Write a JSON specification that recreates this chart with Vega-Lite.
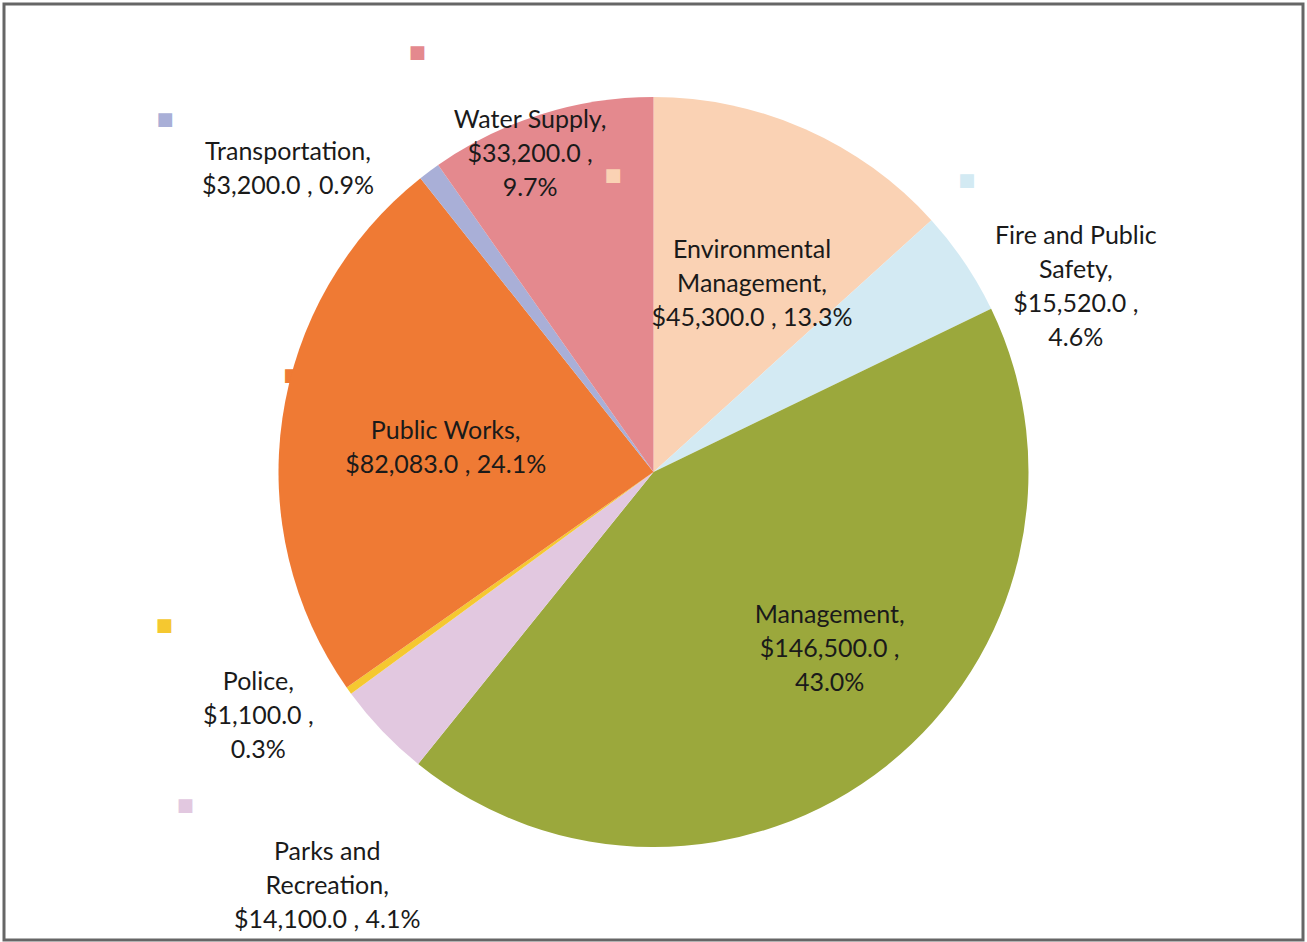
{
  "$schema": "https://vega.github.io/schema/vega-lite/v6.json",
  "width": 1299,
  "height": 936,
  "padding": 4,
  "autosize": {"type": "none"},
  "background": "white",
  "config": {"view": {"stroke": null}},
  "data": {
    "values": [
      {"category": "Environmental Management", "value": 45300, "label": "Environmental\nManagement,\n$45,300.0 , 13.3%"},
      {"category": "Fire and Public Safety", "value": 15520, "label": "Fire and Public\nSafety,\n$15,520.0 ,\n4.6%"},
      {"category": "Management", "value": 146500, "label": "Management,\n$146,500.0 ,\n43.0%"},
      {"category": "Parks and Recreation", "value": 14100, "label": "Parks and\nRecreation,\n$14,100.0 , 4.1%"},
      {"category": "Police", "value": 1100, "label": "Police,\n$1,100.0 ,\n0.3%"},
      {"category": "Public Works", "value": 82083, "label": "Public Works,\n$82,083.0 , 24.1%"},
      {"category": "Transportation", "value": 3200, "label": "Transportation,\n$3,200.0 , 0.9%"},
      {"category": "Water Supply", "value": 33200, "label": "Water Supply,\n$33,200.0 ,\n9.7%"}
    ]
  },
  "encoding": {
    "theta": {"field": "value", "type": "quantitative", "stack": true},
    "order": {"field": "category", "type": "ordinal", "sort": "ascending"}
  },
  "layer": [
    {
      "data": {"values": [{"frame": 1}]},
      "mark": {"type": "rect", "fill": null, "stroke": "#666666", "strokeWidth": 3},
      "encoding": {
        "theta": null,
        "order": null,
        "x": {"value": 0},
        "x2": {"value": "width"},
        "y": {"value": 0},
        "y2": {"value": "height"}
      }
    },
    {
      "mark": {"type": "text", "radius": 373, "dx": -124, "dy": -63, "font": "DejaVu Sans", "fontSize": 18, "align": "center", "baseline": "middle"},
      "encoding": {"color": {"field": "category", "type": "nominal", "legend": null}, "text": {"condition": {"test": "datum.category === 'Water Supply'", "value": "■"}, "value": ""}}
    },
    {
      "mark": {"type": "text", "radius": 484, "dx": -199, "dy": 36, "font": "DejaVu Sans", "fontSize": 18, "align": "center", "baseline": "middle"},
      "encoding": {"color": {"field": "category", "type": "nominal", "legend": null}, "text": {"condition": {"test": "datum.category === 'Transportation'", "value": "■"}, "value": ""}}
    },
    {
      "mark": {"type": "text", "radius": 212, "dx": -152, "dy": -66, "font": "DejaVu Sans", "fontSize": 18, "align": "center", "baseline": "middle"},
      "encoding": {"color": {"field": "category", "type": "nominal", "legend": null}, "text": {"condition": {"test": "datum.category === 'Public Works'", "value": "■"}, "value": ""}}
    },
    {
      "mark": {"type": "text", "radius": 447, "dx": -126, "dy": -107, "font": "DejaVu Sans", "fontSize": 18, "align": "center", "baseline": "middle"},
      "encoding": {"color": {"field": "category", "type": "nominal", "legend": null}, "text": {"condition": {"test": "datum.category === 'Police'", "value": "■"}, "value": ""}}
    },
    {
      "mark": {"type": "text", "radius": 501, "dx": -106, "dy": -12, "font": "DejaVu Sans", "fontSize": 18, "align": "center", "baseline": "middle"},
      "encoding": {"color": {"field": "category", "type": "nominal", "legend": null}, "text": {"condition": {"test": "datum.category === 'Parks and Recreation'", "value": "■"}, "value": ""}}
    },
    {
      "mark": {"type": "arc", "outerRadius": 375, "stroke": null},
      "encoding": {
        "color": {
          "field": "category",
          "type": "nominal",
          "scale": {
            "domain": ["Environmental Management", "Fire and Public Safety", "Management", "Parks and Recreation", "Police", "Public Works", "Transportation", "Water Supply"],
            "range": ["#FAD2B4", "#D3EAF3", "#9BA83C", "#E2C8E0", "#F5C830", "#EF7A34", "#A9AFD7", "#E4898E"]
          },
          "legend": null
        }
      }
    },
    {
      "mark": {"type": "text", "radius": 243, "dx": -139, "dy": -74, "font": "DejaVu Sans", "fontSize": 18, "align": "center", "baseline": "middle"},
      "encoding": {"color": {"field": "category", "type": "nominal", "legend": null}, "text": {"condition": {"test": "datum.category === 'Environmental Management'", "value": "■"}, "value": ""}}
    },
    {
      "mark": {"type": "text", "radius": 484, "dx": -88, "dy": -20, "font": "DejaVu Sans", "fontSize": 18, "align": "center", "baseline": "middle"},
      "encoding": {"color": {"field": "category", "type": "nominal", "legend": null}, "text": {"condition": {"test": "datum.category === 'Fire and Public Safety'", "value": "■"}, "value": ""}}
    },
    {
      "mark": {"type": "text", "radius": 243, "dx": 0, "dy": 0, "font": "Lato", "fontSize": 25, "lineHeight": 34, "lineBreak": "\n", "align": "center", "baseline": "middle", "color": "#1a1a1a"},
      "encoding": {"text": {"condition": {"test": "datum.category === 'Environmental Management'", "field": "label"}, "value": ""}}
    },
    {
      "mark": {"type": "text", "radius": 484, "dx": 21, "dy": 35, "font": "Lato", "fontSize": 25, "lineHeight": 34, "lineBreak": "\n", "align": "center", "baseline": "middle", "color": "#1a1a1a"},
      "encoding": {"text": {"condition": {"test": "datum.category === 'Fire and Public Safety'", "field": "label"}, "value": ""}}
    },
    {
      "mark": {"type": "text", "radius": 227, "dx": 35, "dy": -35, "font": "Lato", "fontSize": 25, "lineHeight": 34, "lineBreak": "\n", "align": "center", "baseline": "middle", "color": "#1a1a1a"},
      "encoding": {"text": {"condition": {"test": "datum.category === 'Management'", "field": "label"}, "value": ""}}
    },
    {
      "mark": {"type": "text", "radius": 501, "dx": 36, "dy": 34, "font": "Lato", "fontSize": 25, "lineHeight": 34, "lineBreak": "\n", "align": "center", "baseline": "middle", "color": "#1a1a1a"},
      "encoding": {"text": {"condition": {"test": "datum.category === 'Parks and Recreation'", "field": "label"}, "value": ""}}
    },
    {
      "mark": {"type": "text", "radius": 447, "dx": -32, "dy": -51, "font": "Lato", "fontSize": 25, "lineHeight": 34, "lineBreak": "\n", "align": "center", "baseline": "middle", "color": "#1a1a1a"},
      "encoding": {"text": {"condition": {"test": "datum.category === 'Police'", "field": "label"}, "value": ""}}
    },
    {
      "mark": {"type": "text", "radius": 212, "dx": 2, "dy": -11, "font": "Lato", "fontSize": 25, "lineHeight": 34, "lineBreak": "\n", "align": "center", "baseline": "middle", "color": "#1a1a1a"},
      "encoding": {"text": {"condition": {"test": "datum.category === 'Public Works'", "field": "label"}, "value": ""}}
    },
    {
      "mark": {"type": "text", "radius": 484, "dx": -76, "dy": 68, "font": "Lato", "fontSize": 25, "lineHeight": 34, "lineBreak": "\n", "align": "center", "baseline": "middle", "color": "#1a1a1a"},
      "encoding": {"text": {"condition": {"test": "datum.category === 'Transportation'", "field": "label"}, "value": ""}}
    },
    {
      "mark": {"type": "text", "radius": 373, "dx": -11, "dy": 4, "font": "Lato", "fontSize": 25, "lineHeight": 34, "lineBreak": "\n", "align": "center", "baseline": "middle", "color": "#1a1a1a"},
      "encoding": {"text": {"condition": {"test": "datum.category === 'Water Supply'", "field": "label"}, "value": ""}}
    }
  ]
}
